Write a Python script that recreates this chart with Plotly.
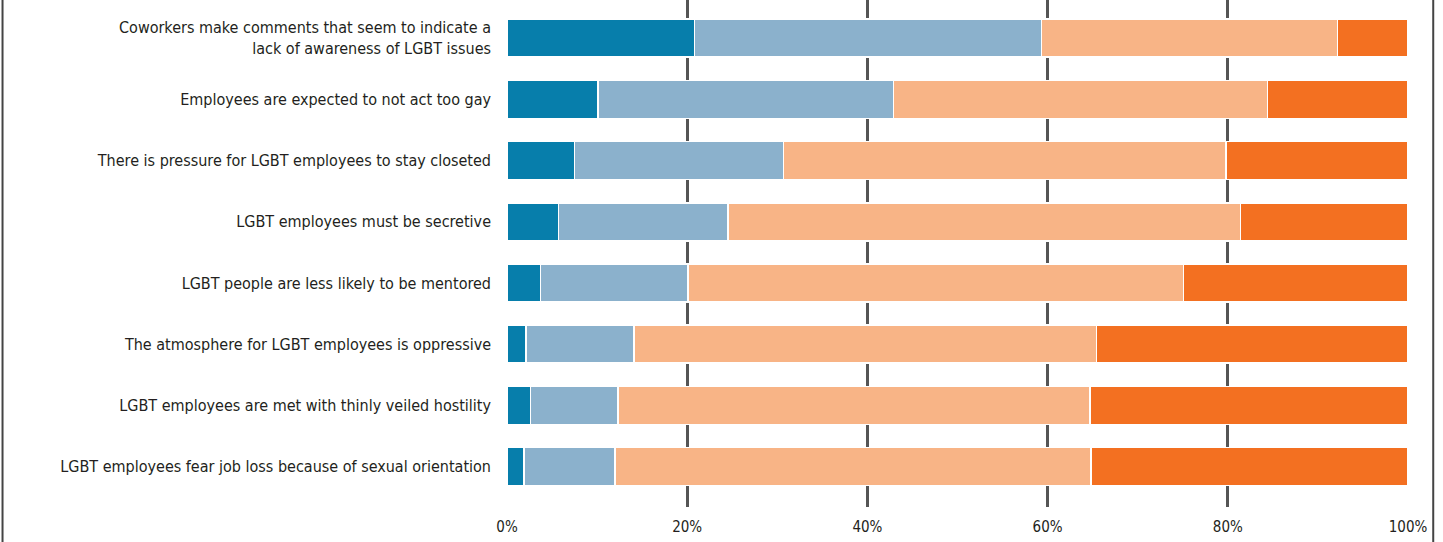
import plotly.graph_objects as go

categories = [
    "Coworkers make comments that seem to indicate a<br>lack of awareness of LGBT issues",
    "Employees are expected to not act too gay",
    "There is pressure for LGBT employees to stay closeted",
    "LGBT employees must be secretive",
    "LGBT people are less likely to be mentored",
    "The atmosphere for LGBT employees is oppressive",
    "LGBT employees are met with thinly veiled hostility",
    "LGBT employees fear job loss because of sexual orientation",
]
strongly_agree = [20.8, 10.1, 7.5, 5.7, 3.7, 2.1, 2.6, 1.9]
agree = [38.5, 32.8, 23.2, 18.8, 16.4, 12.0, 9.7, 10.1]
disagree = [32.9, 41.5, 49.1, 56.9, 55.0, 51.3, 52.4, 52.8]
strongly_disagree = [7.8, 15.6, 20.2, 18.6, 24.9, 34.6, 35.3, 35.2]

series_names = ["Strongly agree", "Agree", "Disagree", "Strongly disagree"]
series_values = [strongly_agree, agree, disagree, strongly_disagree]
colors = ["#077eab", "#8bb1cc", "#f8b486", "#f37021"]

tick_vals = [0, 20, 40, 60, 80, 100]
tick_text = ["0%", "20%", "40%", "60%", "80%", "100%"]
grid_vals = [20, 40, 60, 80]

FONT = "Liberation Sans Narrow, DejaVu Sans Condensed, Arial Narrow, sans-serif"
TEXT = "#231f20"

fig = go.Figure()
for name, vals, col in zip(series_names, series_values, colors):
    fig.add_trace(go.Bar(
        y=categories, x=vals, name=name, orientation="h",
        marker=dict(color=col, line=dict(color="white", width=1.5)),
        width=0.62,
    ))

fig.update_layout(
    width=1443, height=542,
    barmode="stack",
    showlegend=False,
    plot_bgcolor="white", paper_bgcolor="white",
    margin=dict(l=507, r=35, t=0, b=35),
    font=dict(family=FONT, color=TEXT, size=16),
    xaxis=dict(
        range=[0, 100],
        tickvals=tick_vals, ticktext=tick_text,
        showgrid=False, zeroline=False, showline=False,
        ticks="outside", ticklen=6, tickcolor="rgba(0,0,0,0)",
        tickfont=dict(family=FONT, size=15, color=TEXT),
        minor=dict(tickvals=grid_vals, showgrid=True, gridcolor="#555555",
                   gridwidth=3, ticks=""),
        fixedrange=True,
    ),
    yaxis=dict(
        range=[7.66, -0.624],
        showgrid=False, zeroline=False, showline=False,
        ticks="", ticklabelstandoff=15,
        tickfont=dict(family=FONT, size=16, color=TEXT),
        fixedrange=True,
    ),
    shapes=[
        dict(type="line", xref="paper", yref="paper", layer="above",
             x0=-0.5599, x1=-0.5599, y0=-0.2, y1=1.2,
             line=dict(color="#444444", width=2)),
        dict(type="line", xref="paper", yref="paper", layer="above",
             x0=1.028, x1=1.028, y0=-0.2, y1=1.2,
             line=dict(color="#444444", width=2)),
    ],
)

fig.write_html(
    "out.html",
    config={"displayModeBar": False},
    post_script="document.body.style.margin='0';document.body.style.overflow='hidden';",
)
